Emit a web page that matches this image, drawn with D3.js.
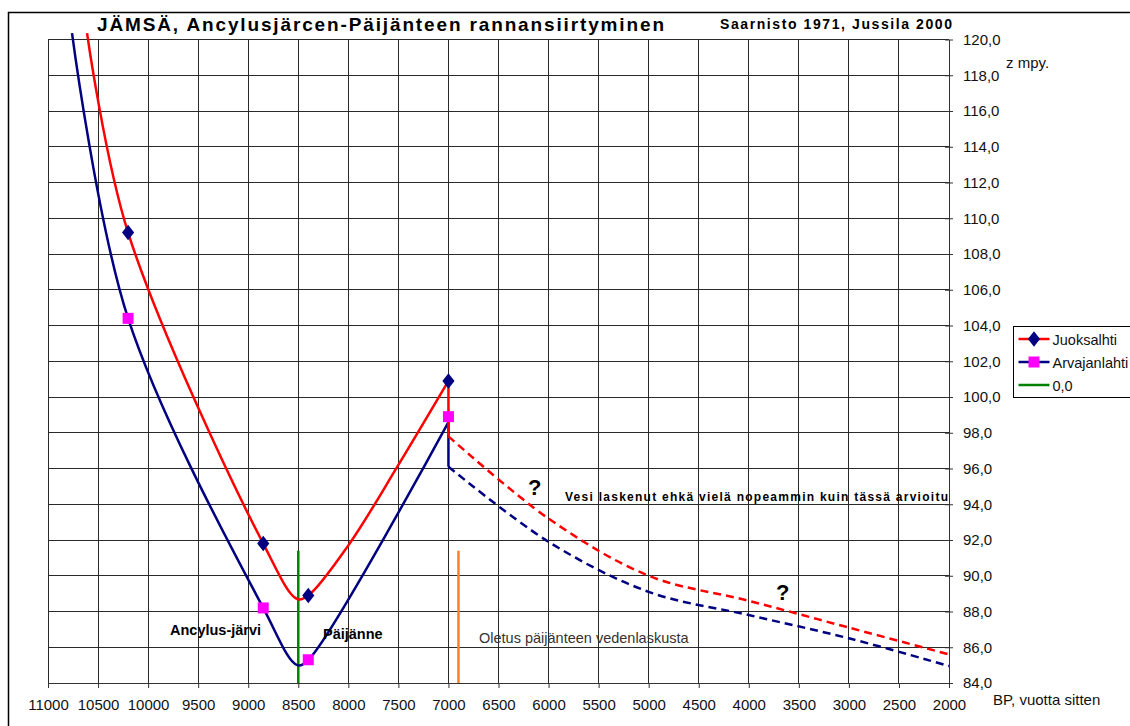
<!DOCTYPE html>
<html>
<head>
<meta charset="utf-8">
<script src="https://cdn.jsdelivr.net/npm/d3@7"></script>
<style>
  body { margin: 0; background: #fff; }
  svg { display: block; font-family: 'Liberation Sans', Arial, sans-serif; }
</style>
</head>
<body>
<svg id="chart" width="1130" height="726"></svg>
<script>
// ---- data ----
const xTicks = d3.range(11000, 1999, -500);
const yTicks = d3.range(84, 120.1, 2);

// Juoksalhti (red line, navy diamonds)
const juoksSolid = [[10610, 120.36], [10200, 109.2], [8850, 91.8], [8510, 88.7], [8400, 88.9], [8000, 91.7], [7500, 96.2], [7000, 100.9]];
const juoksDrop = [[7000, 100.9], [7000, 97.8]];
const juoksDashed = [[7000, 97.8], [6000, 93.2], [5000, 90.0], [4000, 88.6], [3000, 87.1], [2000, 85.6]];
const juoksMarkers = [[10200, 109.2], [8850, 91.8], [8400, 88.9], [7000, 100.9]];

// Arvajanlahti (navy line, magenta squares)
const arvaSolid = [[10760, 120.36], [10200, 104.4], [8850, 88.2], [8510, 85.0], [8400, 85.3], [7000, 98.6]];
const arvaDrop = [[7000, 98.6], [7000, 96.1]];
const arvaDashed = [[7000, 96.1], [6000, 91.9], [5000, 89.1], [4000, 87.8], [3000, 86.5], [2000, 84.95]];
const arvaMarkers = [[10200, 104.4], [8850, 88.2], [8400, 85.3], [7000, 98.9]];

// "0,0" series and the assumed drainage marker
const zeroLine = [[8500, 91.4], [8500, 84.0]];
const drainLine = [[6900, 91.4], [6900, 84.0]];

const legendItems = [
  {name: 'Juoksalhti', line: '#ff0000', marker: 'diamond'},
  {name: 'Arvajanlahti', line: '#000080', marker: 'square'},
  {name: '0,0', line: '#008000', marker: null}
];

// ---- layout ----
const svg = d3.select('#chart');
const plot = {left: 48, right: 949, top: 39.5, bottom: 683};

const x = d3.scaleLinear().domain([11000, 2000]).range([plot.left, plot.right]);
const y = d3.scaleLinear().domain([84, 120]).range([plot.bottom, plot.top]);
const fmt = v => d3.format('.1f')(v).replace('.', ',');

// outer chart border
svg.append('rect')
  .attr('x', 8.5).attr('y', 12.5)
  .attr('width', 1140).attr('height', 730)
  .attr('fill', 'none').attr('stroke', '#000').attr('stroke-width', 1.5);

// grid
const grid = svg.append('g').attr('shape-rendering', 'crispEdges');
grid.selectAll('line.v').data(xTicks).enter().append('line')
  .attr('x1', d => x(d)).attr('x2', d => x(d))
  .attr('y1', plot.top).attr('y2', plot.bottom)
  .attr('stroke', '#2a2a2a');
grid.selectAll('line.h').data(yTicks).enter().append('line')
  .attr('x1', plot.left).attr('x2', plot.right)
  .attr('y1', d => y(d)).attr('y2', d => y(d))
  .attr('stroke', '#2a2a2a');

// axes
const xAxis = svg.append('g')
  .attr('transform', `translate(0,${plot.bottom})`)
  .call(d3.axisBottom(x).tickValues(xTicks).tickSizeInner(5).tickSizeOuter(0).tickFormat(d3.format('d')));
xAxis.selectAll('text').attr('y', 16).attr('font-size', 15).attr('fill', '#111')
  .attr('font-family', "'Liberation Sans', Arial, sans-serif");

const yAxis = svg.append('g')
  .attr('transform', `translate(${plot.right},0)`)
  .call(d3.axisRight(y).tickValues(yTicks).tickSizeInner(4).tickSizeOuter(0).tickFormat(fmt));
yAxis.selectAll('text').attr('x', 14).attr('font-size', 15).attr('fill', '#111')
  .attr('font-family', "'Liberation Sans', Arial, sans-serif");
yAxis.selectAll('.tick line').attr('x1', -4);
svg.selectAll('.domain').attr('stroke', '#333');
svg.selectAll('.tick line').attr('stroke', '#333');

svg.append('text').attr('x', 993).attr('y', 705)
  .attr('font-size', 15).attr('fill', '#111').text('BP, vuotta sitten');
svg.append('text').attr('x', 1006).attr('y', 68)
  .attr('font-size', 15).attr('fill', '#111').text('z mpy.');

// titles
svg.append('text').attr('x', 97).attr('y', 31)
  .attr('font-size', 19).attr('font-weight', 'bold')
  .attr('textLength', 567).attr('lengthAdjust', 'spacing')
  .text('JÄMSÄ, Ancylusjärcen-Päijänteen rannansiirtyminen');
svg.append('text').attr('x', 720).attr('y', 29)
  .attr('font-size', 14).attr('font-weight', 'bold')
  .attr('textLength', 232).attr('lengthAdjust', 'spacing')
  .text('Saarnisto 1971, Jussila 2000');

// vertical marker lines
const line = d3.line().x(d => x(d[0])).y(d => y(d[1]));
svg.append('path').attr('d', line(zeroLine))
  .attr('fill', 'none').attr('stroke', '#008000').attr('stroke-width', 2.5);
svg.append('path').attr('d', line(drainLine))
  .attr('fill', 'none').attr('stroke', '#ff7f27').attr('stroke-width', 2.5);

// series
const smooth = d3.line().x(d => x(d[0])).y(d => y(d[1])).curve(d3.curveCatmullRom.alpha(0.5));

function drawSeries(solid, drop, dashed, color) {
  svg.append('path').attr('d', smooth(solid))
    .attr('fill', 'none').attr('stroke', color).attr('stroke-width', 2.5);
  svg.append('path').attr('d', line(drop))
    .attr('fill', 'none').attr('stroke', color).attr('stroke-width', 2.5);
  svg.append('path').attr('d', smooth(dashed))
    .attr('fill', 'none').attr('stroke', color).attr('stroke-width', 2.5)
    .attr('stroke-dasharray', '8,5');
}
drawSeries(arvaSolid, arvaDrop, arvaDashed, '#000080');
drawSeries(juoksSolid, juoksDrop, juoksDashed, '#ff0000');

const diamond = d3.symbol().type(d3.symbolDiamond).size(70);
const square = d3.symbol().type(d3.symbolSquare).size(121);

svg.selectAll('path.sq').data(arvaMarkers).enter().append('path')
  .attr('class', 'sq')
  .attr('d', square)
  .attr('transform', d => `translate(${x(d[0])},${y(d[1])})`)
  .attr('fill', '#ff00ff');
svg.selectAll('path.dia').data(juoksMarkers).enter().append('path')
  .attr('class', 'dia')
  .attr('d', diamond)
  .attr('transform', d => `translate(${x(d[0])},${y(d[1])}) scale(1.35,1)`)
  .attr('fill', '#000080');

// annotations
svg.append('text').attr('x', 528).attr('y', 495)
  .attr('font-size', 22).attr('font-weight', 'bold').text('?');
svg.append('text').attr('x', 776).attr('y', 600)
  .attr('font-size', 22).attr('font-weight', 'bold').text('?');
svg.append('text').attr('x', 565).attr('y', 501)
  .attr('font-size', 12).attr('font-weight', 'bold')
  .attr('textLength', 383).attr('lengthAdjust', 'spacing')
  .text('Vesi laskenut ehkä vielä nopeammin kuin tässä arvioitu');
svg.append('text').attr('x', 170).attr('y', 635)
  .attr('font-size', 14.5).attr('font-weight', 'bold').text('Ancylus-järvi');
svg.append('text').attr('x', 323).attr('y', 639)
  .attr('font-size', 14.5).attr('font-weight', 'bold').text('Päijänne');
svg.append('text').attr('x', 479).attr('y', 643)
  .attr('font-size', 14.5).attr('fill', '#333').text('Oletus päijänteen vedenlaskusta');

// legend
const legend = svg.append('g').attr('transform', 'translate(1013.5,326.5)');
legend.append('rect').attr('width', 130).attr('height', 71)
  .attr('fill', '#fff').attr('stroke', '#000');
const li = legend.selectAll('g.item').data(legendItems).enter().append('g')
  .attr('transform', (d, i) => `translate(0,${12.5 + i * 23})`);
li.append('line').attr('x1', 5).attr('x2', 36)
  .attr('stroke', d => d.line).attr('stroke-width', 2.5);
li.filter(d => d.marker === 'diamond').append('path')
  .attr('d', diamond).attr('transform', 'translate(20.5,0) scale(1.35,1)').attr('fill', '#000080');
li.filter(d => d.marker === 'square').append('path')
  .attr('d', square).attr('transform', 'translate(20.5,0)').attr('fill', '#ff00ff');
li.append('text').attr('x', 39).attr('y', 5.5)
  .attr('font-size', 14.5).attr('fill', '#111').text(d => d.name);
</script>
</body>
</html>
